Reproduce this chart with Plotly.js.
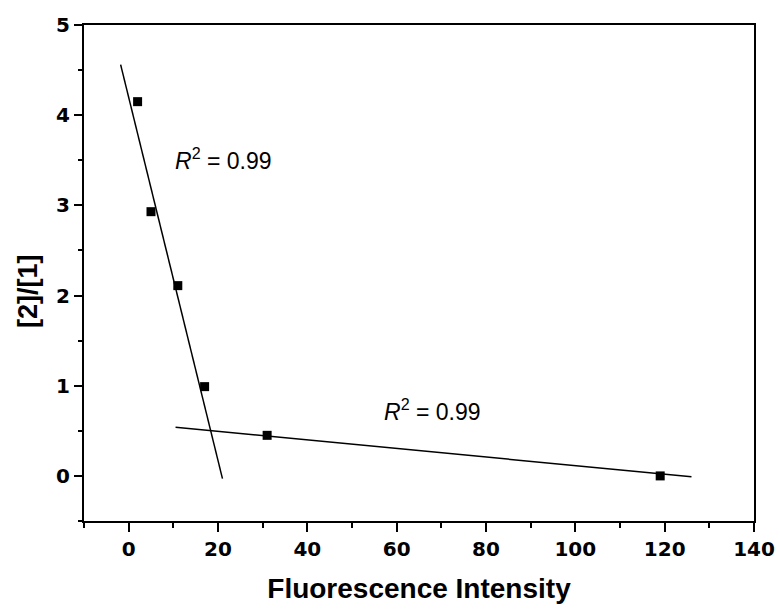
<!DOCTYPE html>
<html>
<head>
<meta charset="utf-8">
<script src="https://cdn.plot.ly/plotly-3.0.1.min.js"></script>
<style>html,body{margin:0;padding:0;background:#fff;}#chart{width:780px;height:612px;}</style>
</head>
<body>
<div id="chart"></div>
<script>
// Measured data points
const intensity = [2, 5, 11, 17, 31, 119];
const ratio = [4.15, 2.93, 2.11, 0.99, 0.45, 0.0];
// Fit line 1 (steep segment) endpoints
const fit1X = [-1.8, 21];
const fit1Y = [4.56, -0.03];
// Fit line 2 (shallow segment) endpoints
const fit2X = [10.5, 126];
const fit2Y = [0.54, -0.01];
// Annotation labels
const r2Labels = ['<i>R</i><sup>2</sup> = 0.99', '<i>R</i><sup>2</sup> = 0.99'];
const r2X = [9.9, 56.8];
const r2Y = [3.51, 0.73];
// Tick labels
const xTickVals = [0, 20, 40, 60, 80, 100, 120, 140];
const yTickVals = [0, 1, 2, 3, 4, 5];
const xTitle = 'Fluorescence Intensity';
const yTitle = '[2]/[1]';

const FONT = 'Liberation Sans, Arial, sans-serif';
const TICKFONT = 'DejaVu Sans, Verdana, sans-serif';

const traces = [
  {x: fit1X, y: fit1Y, mode: 'lines', line: {color: '#000', width: 1.5}, hoverinfo: 'skip'},
  {x: fit2X, y: fit2Y, mode: 'lines', line: {color: '#000', width: 1.5}, hoverinfo: 'skip'},
  {x: intensity, y: ratio, mode: 'markers', marker: {symbol: 'square', size: 9, color: '#000'}}
];

const annots = r2Labels.map((t, i) => ({
  x: r2X[i], y: r2Y[i], xref: 'x', yref: 'y', text: t, showarrow: false,
  xanchor: 'left', yanchor: 'middle', font: {family: FONT, size: 23, color: '#000'}
}));
annots.push({
  x: (28 - 84) / (780 - 84 - 26), y: (521 - 291) / (521 - 25),
  xref: 'paper', yref: 'paper', text: '<b>' + yTitle + '</b>', showarrow: false,
  textangle: -90, xanchor: 'center', yanchor: 'middle', font: {family: FONT, size: 27, color: '#000'}
});

const layout = {
  width: 780, height: 612,
  margin: {l: 84, r: 26, t: 25, b: 91},
  paper_bgcolor: '#fff', plot_bgcolor: '#fff',
  showlegend: false,
  font: {family: FONT, color: '#000', size: 20},
  xaxis: {
    range: [-10, 140], tickmode: 'array', tickvals: xTickVals,
    ticktext: xTickVals.map(v => '<b>' + v + '</b>'),
    showgrid: false, zeroline: false,
    showline: true, linecolor: '#000', linewidth: 2, mirror: true,
    ticks: 'outside', ticklen: 9, tickwidth: 2, tickcolor: '#000',
    minor: {dtick: 10, ticks: 'outside', ticklen: 5, tickwidth: 2, tickcolor: '#000', showgrid: false},
    tickfont: {family: TICKFONT, size: 20, color: '#000'},
    title: {text: '<b>' + xTitle + '</b>', font: {family: FONT, size: 28}, standoff: 18}
  },
  yaxis: {
    range: [-0.5, 5], tickmode: 'array', tickvals: yTickVals,
    ticktext: yTickVals.map(v => '<b>' + v + '</b>'),
    showgrid: false, zeroline: false,
    showline: true, linecolor: '#000', linewidth: 2, mirror: true,
    ticks: 'outside', ticklen: 8, tickwidth: 2, tickcolor: '#000',
    minor: {dtick: 0.5, ticks: 'outside', ticklen: 4, tickwidth: 2, tickcolor: '#000', showgrid: false},
    tickfont: {family: TICKFONT, size: 20, color: '#000'}
  },
  annotations: annots
};

Plotly.newPlot('chart', traces, layout, {displayModeBar: false, staticPlot: true});
</script>
</body>
</html>
